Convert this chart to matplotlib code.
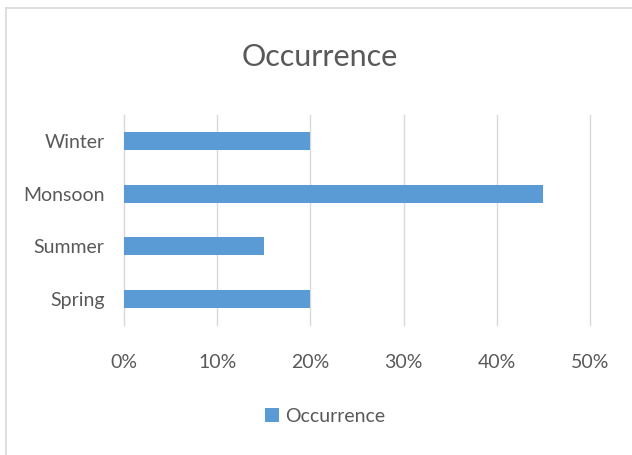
import matplotlib.pyplot as plt
from matplotlib.ticker import PercentFormatter

seasons = ["Spring", "Summer", "Monsoon", "Winter"]
occurrence = [0.20, 0.15, 0.45, 0.20]
x_ticks = [0.0, 0.1, 0.2, 0.3, 0.4, 0.5]

plt.rcParams['font.family'] = ['Lato', 'DejaVu Sans']
txt = "#595959"
grid = "#D9D9D9"
bar_color = "#5B9BD5"

W, H = 632, 455
fig = plt.figure(figsize=(W / 100, H / 100), dpi=100)
fig.patch.set_facecolor("white")

# chart frame (only top and left edge visible in the original crop)
fig.add_artist(plt.Line2D([6 / W, 6 / W], [0, 1 - 8 / H], transform=fig.transFigure, color=grid, lw=1.2))
fig.add_artist(plt.Line2D([6 / W, 1], [1 - 8 / H, 1 - 8 / H], transform=fig.transFigure, color=grid, lw=1.2))

ax = fig.add_axes([124 / W, 1 - 325 / H, (590 - 124) / W, (325 - 115) / H])
bars = ax.barh(range(len(seasons)), occurrence, height=0.34, color=bar_color, label="Occurrence", zorder=3)

ax.set_xlim(0, 0.5)
ax.set_ylim(-0.5, 3.5)
ax.set_xticks(x_ticks)
ax.xaxis.set_major_formatter(PercentFormatter(1.0, decimals=0))
ax.set_yticks(range(len(seasons)))
ax.set_yticklabels(seasons)
ax.grid(axis="x", color=grid, lw=1.0, zorder=0)
for gl in ax.get_xgridlines():
    gl.set_clip_on(False)
for s in ["top", "right", "bottom"]:
    ax.spines[s].set_visible(False)
ax.spines["left"].set_color(grid)
ax.tick_params(axis="both", length=0, labelsize=14, labelcolor=txt)
ax.tick_params(axis="x", pad=21)
ax.tick_params(axis="y", pad=14)

fig.text(320 / W, 1 - 57 / H, "Occurrence", ha="center", va="center", fontsize=22, color=txt)

leg = fig.legend(handles=[bars], labels=["Occurrence"], loc="center", bbox_to_anchor=(325 / W, 1 - 416 / H),
                 frameon=False, fontsize=14, handlelength=0.75, handleheight=0.75, handletextpad=0.3)
for t in leg.get_texts():
    t.set_color(txt)

fig.savefig("out.png", dpi=100)
